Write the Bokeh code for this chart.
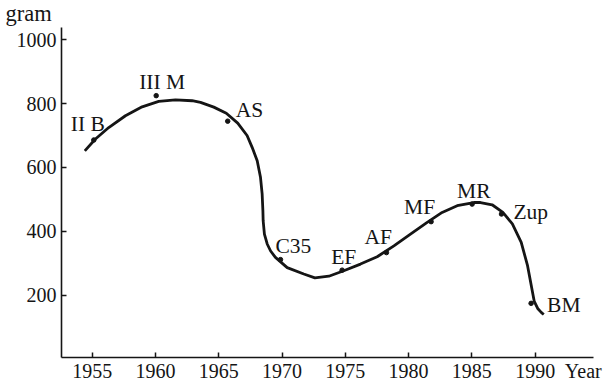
from bokeh.plotting import figure
from bokeh.models import Range1d, FixedTicker, ColumnDataSource
from bokeh.embed import file_html
from bokeh.resources import INLINE
from bokeh.core.properties import value

# ---- data ----
curve_year = [1954.42, 1955.26, 1956.31, 1957.63, 1958.95, 1960.26, 1961.58, 1962.90,
              1963.56, 1964.61, 1965.60, 1966.50, 1967.24, 1967.64, 1968.04, 1968.30,
              1968.43, 1968.49, 1968.51, 1968.61, 1968.83, 1969.10, 1969.48, 1970.41,
              1971.72, 1972.60, 1973.70, 1974.88, 1976.20, 1977.52, 1978.84, 1980.15,
              1981.47, 1982.65, 1983.84, 1985.15, 1985.68, 1986.60, 1987.45, 1988.20,
              1988.90, 1989.40, 1989.70, 1989.93, 1990.20, 1990.50, 1990.68]
curve_gram = [652, 689, 725, 762, 790, 807, 812, 809,
              804, 789, 770, 739, 700, 663, 621, 569,
              517, 464, 433, 391, 360, 338, 318, 286,
              266, 254, 259, 276, 297, 320, 354, 391,
              428, 459, 480, 490, 490, 483, 459, 423,
              365, 292, 228, 180, 158, 145, 139]

point_name = ["II B", "III M", "AS", "C35", "EF", "AF", "MF", "MR", "Zup", "BM"]
point_year = [1955.13, 1960.06, 1965.71, 1969.88, 1974.75, 1978.25, 1981.78, 1985.02, 1987.34, 1989.68]
point_gram = [686, 825, 745, 311, 278, 333, 430, 485, 454, 174]

x_ticks = [1955, 1960, 1965, 1970, 1975, 1980, 1985, 1990]
y_ticks = [200, 400, 600, 800, 1000]
x_title = "Year"
y_title = "gram"

# ---- styling ----
label_dx = [-23, -17, 8, -5, -11, -22, -27, -15, 12, 16]    # screen px
label_dy = [-16, -14, -11, -14, -13, -16, -15, -13, -2, 2]   # screen px
X_TITLE_AT = 1993.8    # where the x title sits in the tick-label row

FONT = "Liberation Serif"
INK = "#151515"

p = figure(width=606, height=384, output_backend="svg", toolbar_location=None,
           x_range=Range1d(1952.578, 1994.61), y_range=Range1d(4.2, 1038.6),
           min_border_left=61, min_border_right=13, min_border_top=27,
           min_border_bottom=27)
p.background_fill_color = "white"
p.border_fill_color = "white"
p.outline_line_color = None
p.grid.visible = False

for ax in (p.xaxis, p.yaxis):
    ax.axis_line_color = INK
    ax.axis_line_width = 1.6
    ax.major_label_text_font = FONT
    ax.major_label_text_font_size = "20px"
    ax.major_label_text_color = INK

# x axis: tick marks from minor ticks, labels from major ticks (+ title in label row)
p.xaxis.ticker = FixedTicker(ticks=x_ticks + [X_TITLE_AT], minor_ticks=x_ticks)
p.xaxis.major_label_overrides = {X_TITLE_AT: x_title}
p.xaxis.major_tick_line_color = None
p.xaxis.major_tick_in = 0
p.xaxis.major_tick_out = 0
p.xaxis.minor_tick_line_color = INK
p.xaxis.minor_tick_line_width = 1.5
p.xaxis.minor_tick_in = 5
p.xaxis.minor_tick_out = 0
p.xaxis.major_label_standoff = 2

p.yaxis.ticker = FixedTicker(ticks=y_ticks)
p.yaxis.major_tick_line_color = INK
p.yaxis.major_tick_line_width = 1.5
p.yaxis.major_tick_in = 5
p.yaxis.major_tick_out = 0
p.yaxis.minor_tick_line_color = None
p.yaxis.major_label_standoff = 5

# y unit as title, top-left
p.title.text = y_title
p.title.align = "left"
p.title.offset = -56
p.title.standoff = 0
p.title.vertical_align = "top"
p.title.text_font = FONT
p.title.text_font_size = "22.5px"
p.title.text_font_style = "normal"
p.title.text_color = INK

p.line(curve_year, curve_gram, line_color=INK, line_width=2.8)

src = ColumnDataSource(dict(x=point_year, y=point_gram, name=point_name,
                            dx=label_dx, dy=label_dy))
p.scatter("x", "y", source=src, size=4.5, color=INK)
p.text("x", "y", text="name", source=src, x_offset="dx", y_offset="dy",
       text_font=value(FONT), text_font_size="21.5px", text_color=INK,
       text_align="left", text_baseline="alphabetic")

open("out.html", "w").write(file_html(p, INLINE))
